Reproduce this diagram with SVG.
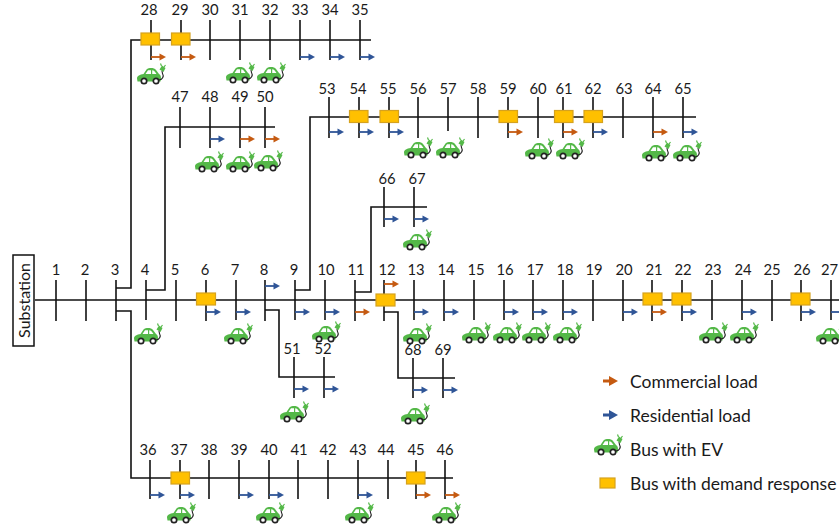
<svg xmlns="http://www.w3.org/2000/svg" xmlns:xlink="http://www.w3.org/1999/xlink" width="839" height="530" viewBox="0 0 839 530">
<style>
text{font-family:Lato,"Open Sans","Liberation Sans",sans-serif;font-size:14.800px;fill:#1a1a1a;text-anchor:middle}
.leg{font-size:17.500px;text-anchor:start}
path.t,.w{fill:none;stroke:#111;stroke-width:1.600}
.d{fill:#ffc000;stroke:#d6a21e;stroke-width:1.200}
</style>
<defs>
<g id="res"><path d="M0 0H10" stroke="#2f5597" stroke-width="1.800"/><path d="M8.500 -3.500L15 0L8.500 3.500Z" fill="#2f5597"/></g>
<g id="com"><path d="M0 0H10" stroke="#c55a11" stroke-width="1.800"/><path d="M8.500 -3.500L15 0L8.500 3.500Z" fill="#c55a11"/></g>
<g id="lres"><path d="M0 0H10" stroke="#2f5597" stroke-width="3"/><path d="M6 -5L15 0L6 5Z" fill="#2f5597"/></g>
<g id="lcom"><path d="M0 0H10" stroke="#c55a11" stroke-width="3"/><path d="M6 -5L15 0L6 5Z" fill="#c55a11"/></g>
<g id="car">
<path d="M-13 3.500C-13 1 -10 -0.500 -6.500 -1L-3.500 -5.500C-1 -7.500 4 -7.500 6 -5L9 -1C11 0 11.500 3 10.500 6.500L-12.500 6.500Z" fill="#54b848"/>
<path d="M-4.500 -1L-2 -4.800H1V-1ZM2.200 -1V-4.800C4 -4.800 5 -3.500 6.500 -1Z" fill="#fff"/>
<circle cx="-6" cy="6" r="2.700" fill="#fff" stroke="#222" stroke-width="1.700"/>
<circle cx="6" cy="6" r="2.700" fill="#fff" stroke="#222" stroke-width="1.700"/>
<path d="M9 5C13 4.500 14 1 12.500 -1.500L12 -4" fill="none" stroke="#222" stroke-width="1.100"/>
<path d="M9.500 -5.500L13.500 -3L15.500 -7L12 -9.500Z" fill="#54b848"/>
<path d="M11.500 -9L10.500 -11.500M14 -8L15.500 -10" stroke="#54b848" stroke-width="1.200"/>
</g>
</defs>
<rect width="839" height="530" fill="#fff"/>
<g id="connectors" fill="none">
<path class="w" d="M35 300H839"/>
<path class="w" d="M116 288H131V40H371"/>
<path class="w" d="M116 311H131V478H453"/>
<path class="w" d="M146 290H165V127H275"/>
<path class="w" d="M295 290H310V117H696"/>
<path class="w" d="M355 292H371V207H427"/>
<path class="w" d="M384 312H398V378H455"/>
<path class="w" d="M265 310H279V377H335"/>
</g>
<g id="substation"><rect x="13" y="255" width="21" height="91" fill="#fff" stroke="#111" stroke-width="1.500"/><text transform="translate(29.500 300.500) rotate(-90)" style="font-size:16px">Substation</text></g>
<g id="bus1"><text x="56" y="275">1</text><path class="t" d="M56 280V321"/></g>
<g id="bus2"><text x="85" y="275">2</text><path class="t" d="M86 280V321"/></g>
<g id="bus3"><text x="115" y="275">3</text><path class="t" d="M116 280V321"/></g>
<g id="bus4"><text x="145" y="275">4</text><path class="t" d="M146 280V320"/><use href="#car" x="147" y="335"/></g>
<g id="bus5"><text x="175" y="275">5</text><path class="t" d="M176 280V321"/></g>
<g id="bus6"><text x="205" y="275">6</text><path class="t" d="M206 280V321"/><rect class="d" x="196.500" y="293" width="19" height="12"/><use href="#res" x="206" y="312"/></g>
<g id="bus7"><text x="235" y="275">7</text><path class="t" d="M236 280V320"/><use href="#res" x="236" y="312"/><use href="#car" x="237" y="335"/></g>
<g id="bus8"><text x="264" y="275">8</text><path class="t" d="M265 280V321"/><use href="#res" x="265" y="286"/></g>
<g id="bus9"><text x="294" y="275">9</text><path class="t" d="M295 280V320"/><use href="#res" x="295" y="312"/></g>
<g id="bus10"><text x="326" y="275">10</text><path class="t" d="M325 280V320"/><use href="#res" x="325" y="312"/><use href="#car" x="325" y="333"/></g>
<g id="bus11"><text x="356" y="275">11</text><path class="t" d="M355 280V321"/><use href="#com" x="355" y="312"/></g>
<g id="bus12"><text x="387" y="275">12</text><path class="t" d="M384 280V321"/><rect class="d" x="376" y="294" width="19" height="12"/><use href="#com" x="384" y="284"/></g>
<g id="bus13"><text x="416" y="275">13</text><path class="t" d="M414 280V320"/><use href="#res" x="414" y="312"/><use href="#car" x="416" y="335"/></g>
<g id="bus14"><text x="446" y="275">14</text><path class="t" d="M444 280V321"/><use href="#res" x="444" y="312"/></g>
<g id="bus15"><text x="476" y="275">15</text><path class="t" d="M474 280V320"/><use href="#car" x="475" y="334"/></g>
<g id="bus16"><text x="505" y="275">16</text><path class="t" d="M504 280V320"/><use href="#res" x="504" y="312"/><use href="#car" x="506" y="334"/></g>
<g id="bus17"><text x="535" y="275">17</text><path class="t" d="M533 280V320"/><use href="#res" x="533" y="312"/><use href="#car" x="535" y="334"/></g>
<g id="bus18"><text x="565" y="275">18</text><path class="t" d="M563 280V320"/><use href="#res" x="563" y="312"/><use href="#car" x="566" y="334"/></g>
<g id="bus19"><text x="594" y="275">19</text><path class="t" d="M593 280V321"/></g>
<g id="bus20"><text x="624" y="275">20</text><path class="t" d="M623 280V321"/><use href="#res" x="623" y="312"/></g>
<g id="bus21"><text x="654" y="275">21</text><path class="t" d="M652 280V321"/><rect class="d" x="643" y="293" width="19" height="12"/><use href="#com" x="652" y="312"/></g>
<g id="bus22"><text x="683" y="275">22</text><path class="t" d="M682 280V321"/><rect class="d" x="672" y="293" width="19" height="12"/><use href="#res" x="682" y="312"/></g>
<g id="bus23"><text x="713" y="275">23</text><path class="t" d="M712 280V320"/><use href="#car" x="712" y="334"/></g>
<g id="bus24"><text x="743" y="275">24</text><path class="t" d="M742 280V320"/><use href="#res" x="742" y="312"/><use href="#car" x="743" y="334"/></g>
<g id="bus25"><text x="772" y="275">25</text><path class="t" d="M772 280V321"/></g>
<g id="bus26"><text x="802" y="275">26</text><path class="t" d="M801 280V321"/><rect class="d" x="791" y="293" width="19" height="12"/><use href="#res" x="801" y="312"/></g>
<g id="bus27"><text x="829.500" y="275">27</text><path class="t" d="M831 280V320"/><use href="#res" x="831" y="312"/><use href="#car" x="829" y="335"/></g>
<g id="bus28"><text x="149" y="15">28</text><path class="t" d="M151 20V60"/><rect class="d" x="141" y="33" width="18.500" height="12"/><use href="#com" x="151" y="57"/><use href="#car" x="150" y="75"/></g>
<g id="bus29"><text x="180" y="15">29</text><path class="t" d="M181 20V60"/><rect class="d" x="171.500" y="33" width="18.500" height="12"/><use href="#com" x="181" y="57"/></g>
<g id="bus30"><text x="210" y="15">30</text><path class="t" d="M210 20V60"/></g>
<g id="bus31"><text x="240" y="15">31</text><path class="t" d="M240 20V60"/><use href="#car" x="239" y="74"/></g>
<g id="bus32"><text x="270" y="15">32</text><path class="t" d="M270 20V60"/><use href="#car" x="270" y="74"/></g>
<g id="bus33"><text x="300" y="15">33</text><path class="t" d="M300 20V60"/><use href="#res" x="300" y="57"/></g>
<g id="bus34"><text x="330" y="15">34</text><path class="t" d="M330 20V60"/><use href="#res" x="330" y="57"/></g>
<g id="bus35"><text x="360" y="15">35</text><path class="t" d="M360 20V60"/><use href="#res" x="360" y="57"/></g>
<g id="bus36"><text x="148" y="455">36</text><path class="t" d="M150 460V499"/><use href="#res" x="150" y="495"/></g>
<g id="bus37"><text x="179" y="455">37</text><path class="t" d="M180 460V499"/><rect class="d" x="171" y="472" width="18.500" height="12"/><use href="#res" x="180" y="495"/><use href="#car" x="180" y="514"/></g>
<g id="bus38"><text x="209" y="455">38</text><path class="t" d="M209 460V499"/></g>
<g id="bus39"><text x="239" y="455">39</text><path class="t" d="M239 460V499"/><use href="#res" x="239" y="495"/></g>
<g id="bus40"><text x="269" y="455">40</text><path class="t" d="M269 460V499"/><use href="#res" x="269" y="495"/><use href="#car" x="269" y="514"/></g>
<g id="bus41"><text x="299" y="455">41</text><path class="t" d="M298 460V499"/></g>
<g id="bus42"><text x="328" y="455">42</text><path class="t" d="M328 460V499"/></g>
<g id="bus43"><text x="358" y="455">43</text><path class="t" d="M358 460V499"/><use href="#res" x="358" y="495"/><use href="#car" x="358" y="514"/></g>
<g id="bus44"><text x="386" y="455">44</text><path class="t" d="M388 460V499"/></g>
<g id="bus45"><text x="416" y="455">45</text><path class="t" d="M416 460V499"/><rect class="d" x="406.500" y="472" width="18.500" height="12"/><use href="#com" x="416" y="495"/></g>
<g id="bus46"><text x="445" y="455">46</text><path class="t" d="M445 460V499"/><use href="#com" x="445" y="495"/><use href="#car" x="445" y="514"/></g>
<g id="bus47"><text x="180" y="102">47</text><path class="t" d="M180 107V148"/></g>
<g id="bus48"><text x="210" y="102">48</text><path class="t" d="M210 107V148"/><use href="#res" x="210" y="139"/><use href="#car" x="208" y="163"/></g>
<g id="bus49"><text x="240" y="102">49</text><path class="t" d="M240 107V148"/><use href="#com" x="240" y="139"/><use href="#car" x="239" y="163"/></g>
<g id="bus50"><text x="265" y="102">50</text><path class="t" d="M265 107V148"/><use href="#com" x="265" y="139"/><use href="#car" x="267" y="162"/></g>
<g id="bus51"><text x="292" y="354">51</text><path class="t" d="M294 357V398"/><use href="#res" x="294" y="389"/><use href="#car" x="293" y="413"/></g>
<g id="bus52"><text x="323" y="354">52</text><path class="t" d="M324 357V398"/><use href="#res" x="324" y="389"/></g>
<g id="bus53"><text x="327" y="94">53</text><path class="t" d="M329 97V138"/><use href="#res" x="329" y="132"/></g>
<g id="bus54"><text x="358" y="94">54</text><path class="t" d="M359 97V138"/><rect class="d" x="349.500" y="110.500" width="18.500" height="12"/><use href="#res" x="359" y="132"/></g>
<g id="bus55"><text x="388" y="94">55</text><path class="t" d="M389 97V138"/><rect class="d" x="380" y="110.500" width="18.500" height="12"/><use href="#res" x="389" y="132"/></g>
<g id="bus56"><text x="418" y="94">56</text><path class="t" d="M418 97V138"/><use href="#car" x="417" y="149"/></g>
<g id="bus57"><text x="448" y="94">57</text><path class="t" d="M448 97V131"/><use href="#car" x="449" y="149"/></g>
<g id="bus58"><text x="478" y="94">58</text><path class="t" d="M478 97V138"/></g>
<g id="bus59"><text x="508" y="94">59</text><path class="t" d="M508 97V138"/><rect class="d" x="499" y="110.500" width="18.500" height="12"/><use href="#com" x="508" y="132"/></g>
<g id="bus60"><text x="538" y="94">60</text><path class="t" d="M538 97V138"/><use href="#car" x="538" y="150"/></g>
<g id="bus61"><text x="564" y="94">61</text><path class="t" d="M563 97V138"/><rect class="d" x="554.500" y="110.500" width="18.500" height="12"/><use href="#com" x="563" y="132"/><use href="#car" x="569" y="150"/></g>
<g id="bus62"><text x="593" y="94">62</text><path class="t" d="M593 97V138"/><rect class="d" x="584" y="110.500" width="18.500" height="12"/><use href="#res" x="593" y="132"/></g>
<g id="bus63"><text x="624" y="94">63</text><path class="t" d="M623 97V138"/></g>
<g id="bus64"><text x="653" y="94">64</text><path class="t" d="M653 97V138"/><use href="#com" x="653" y="132"/><use href="#car" x="655" y="152"/></g>
<g id="bus65"><text x="683" y="94">65</text><path class="t" d="M683 97V138"/><use href="#res" x="683" y="132"/><use href="#car" x="686" y="152"/></g>
<g id="bus66"><text x="387" y="184">66</text><path class="t" d="M384 187V227"/><use href="#res" x="384" y="219"/></g>
<g id="bus67"><text x="417" y="184">67</text><path class="t" d="M414 187V227"/><use href="#res" x="414" y="219"/><use href="#car" x="416" y="241"/></g>
<g id="bus68"><text x="413" y="355">68</text><path class="t" d="M413 358V398"/><use href="#res" x="413" y="390"/><use href="#car" x="414" y="415"/></g>
<g id="bus69"><text x="443" y="355">69</text><path class="t" d="M443 358V398"/><use href="#res" x="443" y="390"/></g>
<g id="legend">
<use href="#lcom" x="603" y="381"/><text class="leg" x="630" y="388">Commercial load</text>
<use href="#lres" x="603" y="415"/><text class="leg" x="630" y="422">Residential load</text>
<use href="#car" x="607" y="446"/><text class="leg" x="630" y="456">Bus with EV</text>
<rect class="d" x="600" y="478" width="15" height="10"/><text class="leg" x="630" y="490">Bus with demand response</text>
</g>
</svg>
